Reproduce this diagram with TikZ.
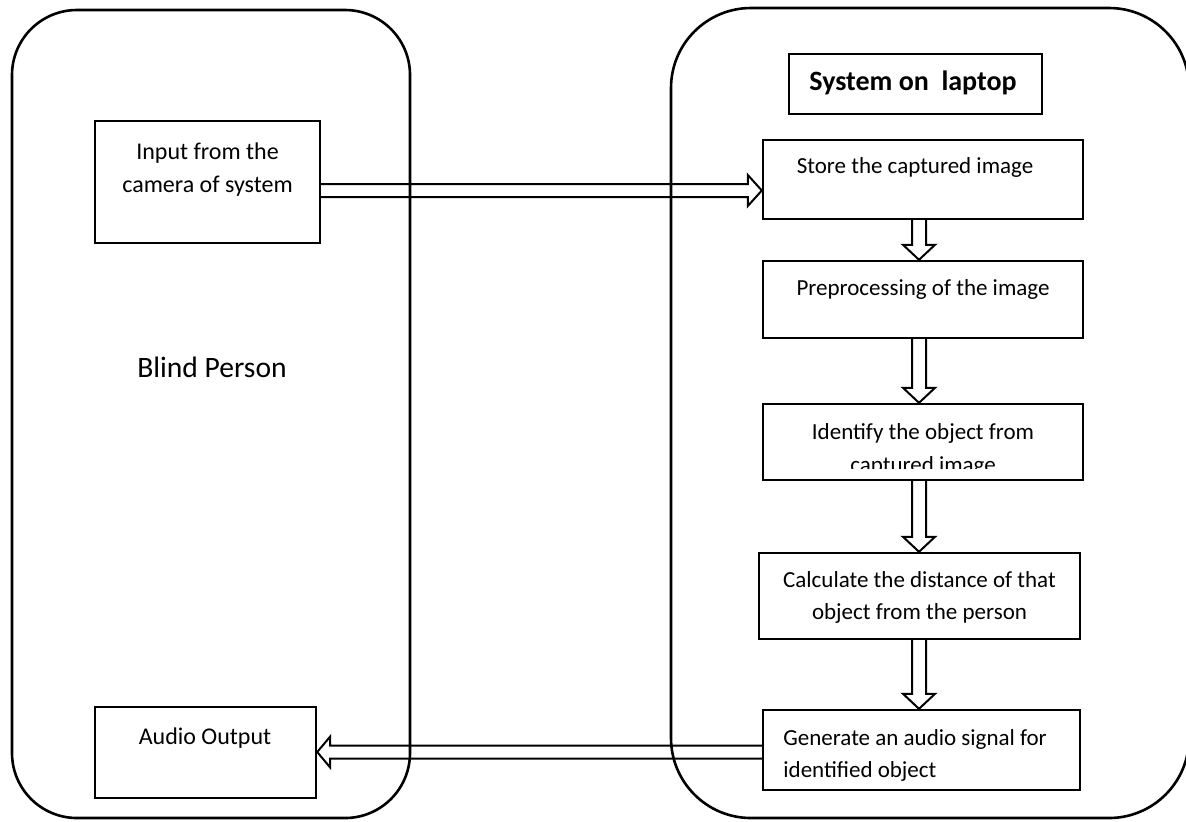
\documentclass[tikz,border=0pt]{standalone}
\usepackage{fontspec}
\setmainfont{Carlito}
\usetikzlibrary{calc}

% hollow block arrow, horizontal: #1 start, #2 tip, #3 signed head length
\newcommand\hollowh[3]{%
  \draw[hollow] ($(#1)+(0,-6.5)$) -- ($(#2)+({-(#3)},-6.5)$) -- ($(#2)+({-(#3)},-15.5)$)
    -- (#2) -- ($(#2)+({-(#3)},15.5)$) -- ($(#2)+({-(#3)},6.5)$) -- ($(#1)+(0,6.5)$);}
% hollow block arrow pointing down: #1 start, #2 tip
\newcommand\hollowv[2]{%
  \draw[hollow] ($(#1)+(-7,0)$) -- ($(#2)+(-7,-15)$) -- ($(#2)+(-16,-15)$)
    -- (#2) -- ($(#2)+(16,-15)$) -- ($(#2)+(7,-15)$) -- ($(#1)+(7,0)$);}

\begin{document}
\begin{tikzpicture}[x=0.5pt,y=-0.5pt,
  container/.style={draw, line width=1.3pt, rectangle, inner sep=0pt},
  stepbox/.style={draw, line width=1.2pt, rectangle, inner sep=0pt},
  titlebox/.style={draw, line width=0.7pt, rectangle, inner sep=0pt},
  txt/.style={anchor=base, inner sep=0pt, font=\fontsize{11.5}{14}\selectfont},
  bigtxt/.style={txt, font=\fontsize{12}{14}\selectfont},
  hollow/.style={draw, line width=1pt, line join=miter}]
\useasboundingbox (0,0) rectangle (1186,821);
\clip (0,0) rectangle (1186,821);

% the two large regions
\node[container, rounded corners=32.5pt, minimum width=199pt, minimum height=404pt] (person) at (211,414) {};
\node[container, rounded corners=40pt, minimum width=259pt, minimum height=405pt] (laptop) at (930,413) {};

% person side
\node[stepbox, minimum width=112.5pt, minimum height=61pt] (input) at (207.5,182) {};
\node[bigtxt] (inputA) at (207.5,159) {Input from the};
\node[bigtxt] (inputB) at (207.5,192) {camera of system};
\node[txt, font=\fontsize{14.8}{17}\selectfont] (blind) at (212,377) {Blind Person};
\node[stepbox, minimum width=110.5pt, minimum height=45.5pt] (audio) at (205.5,752.5) {};
\node[bigtxt] (audioT) at (205,744) {Audio Output};

% laptop side
\node[titlebox, minimum width=126.5pt, minimum height=30pt] (sys) at (915.5,84) {};
\node[txt, font=\fontsize{14}{17}\bfseries] (sysT) at (913,90) {System on\ \ laptop};

\node[stepbox, minimum width=160pt, minimum height=39.5pt] (store) at (923,179.5) {};
\node[txt] (storeT) at (915,173) {Store the captured image};

\node[stepbox, minimum width=160pt, minimum height=38.5pt] (prep) at (923,299.5) {};
\node[txt] (prepT) at (923,295) {Preprocessing of the image};

\node[stepbox, minimum width=160pt, minimum height=38pt] (ident) at (923,442) {};
\node[txt] (identA) at (923,439) {Identify the object from};
\begin{scope}
  \clip (765,430) rectangle (1081,468);
  \node[txt] (identB) at (923,472) {captured image};
\end{scope}

\node[stepbox, minimum width=160.5pt, minimum height=43pt] (calc) at (919.5,596) {};
\node[txt] (calcA) at (919.5,587) {Calculate the distance of that};
\node[txt] (calcB) at (919.5,619) {object from the person};

\node[stepbox, minimum width=158.5pt, minimum height=40pt] (gen) at (921.5,750) {};
\node[txt, anchor=base west] (genA) at (783,745) {Generate an audio signal for};
\node[txt, anchor=base west] (genB) at (783,777) {identified object};

% connectors
\coordinate (col) at (919,0);
\coordinate (rowIn) at (0,190.5);
\coordinate (rowOut) at (0,752);

\coordinate (a1s) at (input.east |- rowIn);
\coordinate (a1t) at (store.west |- rowIn);
\hollowh{a1s}{a1t}{14}

\coordinate (a2s) at (store.south -| col);
\coordinate (a2t) at (prep.north -| col);
\hollowv{a2s}{a2t}

\coordinate (a3s) at (prep.south -| col);
\coordinate (a3t) at (ident.north -| col);
\hollowv{a3s}{a3t}

\coordinate (a4s) at (ident.south -| col);
\coordinate (a4t) at (calc.north -| col);
\hollowv{a4s}{a4t}

\coordinate (a5s) at (calc.south -| col);
\coordinate (a5t) at (gen.north -| col);
\hollowv{a5s}{a5t}

\coordinate (a6s) at (gen.west |- rowOut);
\coordinate (a6t) at (audio.east |- rowOut);
\hollowh{a6s}{a6t}{-13}
\end{tikzpicture}
\end{document}
